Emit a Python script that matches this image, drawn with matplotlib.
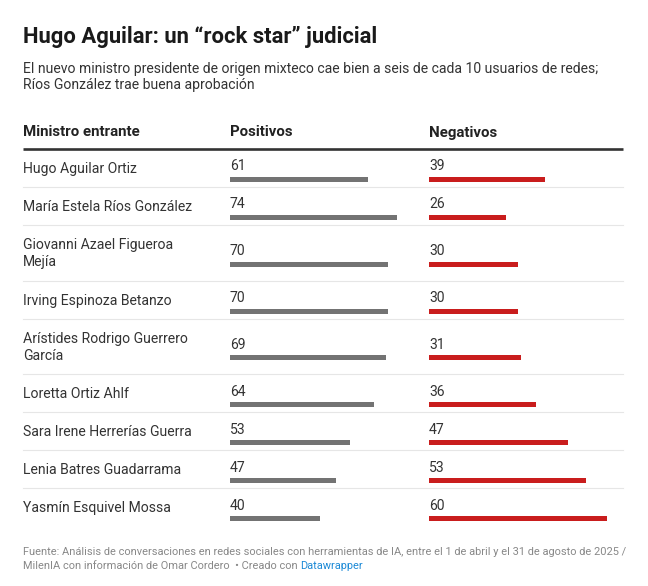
import matplotlib
matplotlib.use("Agg")
import matplotlib.pyplot as plt

W, H = 648, 586

title = "Hugo Aguilar: un \u201crock star\u201d judicial"
subtitle = [
    "El nuevo ministro presidente de origen mixteco cae bien a seis de cada 10 usuarios de redes;",
    "Ríos González trae buena aprobación",
]
columns = ["Ministro entrante", "Positivos", "Negativos"]
names = [
    "Hugo Aguilar Ortiz",
    "María Estela Ríos González",
    "Giovanni Azael Figueroa\nMejía",
    "Irving Espinoza Betanzo",
    "Arístides Rodrigo Guerrero\nGarcía",
    "Loretta Ortiz Ahlf",
    "Sara Irene Herrerías Guerra",
    "Lenia Batres Guadarrama",
    "Yasmín Esquivel Mossa",
]
positivos = [61, 74, 70, 70, 69, 64, 53, 47, 40]
negativos = [39, 26, 30, 30, 31, 36, 47, 53, 60]
source_1 = ("Fuente: Análisis de conversaciones en redes sociales con herramientas de IA, "
            "entre el 1 de abril y el 31 de agosto de 2025 /")
source_2 = "MilenIA con información de Omar Cordero  \u2022 Creado con "
credit = "Datawrapper"

GRAY = "#737373"
RED = "#c91d1d"
TEXT = "#333333"


def pt(px):
    return px * 72 / 100


plt.rcParams["font.family"] = ["Roboto", "DejaVu Sans"]

fig = plt.figure(figsize=(W / 100, H / 100), dpi=100)
ax = fig.add_axes([0, 0, 1, 1])
ax.set_xlim(0, W)
ax.set_ylim(H, 0)
ax.axis("off")

left, right = 23, 623
col_x = [23, 230, 429]

ax.text(left, 43.5, title, fontsize=pt(22), fontweight="bold", color="#1a1a1a", va="baseline")
for i, line in enumerate(subtitle):
    ax.text(left, 72.5 + 16.5 * i, line, fontsize=pt(14), color=TEXT, va="baseline")

# header
for x, c in zip(col_x, columns):
    ax.text(x, 136.5, c, fontsize=pt(15), fontweight="bold", color="#222222", va="baseline")
ax.plot([left, right], [149, 149], color="#333333", lw=1.9, solid_capstyle="butt")

# row geometry
centers = []
y = 150
for n in names:
    h = 38 + 17.5 * n.count("\n")
    centers.append(y + h / 2)
    y += h
    if n is not names[-1]:
        ax.plot([left, right], [y - 1, y - 1], color="#e6e6e6", lw=0.8)

for n, c in zip(names, centers):
    ax.text(left, c, n, fontsize=pt(14), color=TEXT, va="center", linespacing=1.25)

bar_y = [c + 10.5 for c in centers]

# bar columns, one axes per column with its own scale
specs = [(positivos, GRAY, col_x[1], 2.255), (negativos, RED, col_x[2], 2.965)]
for vals, color, x0, scale in specs:
    width_px = 185
    bax = fig.add_axes([x0 / W, 0, width_px / W, 1])
    bax.set_xlim(0, width_px / scale)
    bax.set_ylim(H, 0)
    bax.axis("off")
    bax.barh(bar_y, vals, height=5, color=color, left=0)
    for v, c in zip(vals, centers):
        bax.text(0, c + 1.5, str(v), fontsize=pt(14), color=TEXT, va="baseline")

foot = pt(10.95)
ax.text(left, 555, source_1, fontsize=foot, color="#888888", va="baseline")
t2 = ax.text(left, 569, source_2, fontsize=foot, color="#888888", va="baseline")
fig.canvas.draw()
bb = t2.get_window_extent()
x_end = ax.transData.inverted().transform((bb.x1, bb.y0))[0]
ax.text(x_end, 569, credit, fontsize=foot, color="#1d8ad6", va="baseline")

fig.savefig("out.png", dpi=100, facecolor="white")
